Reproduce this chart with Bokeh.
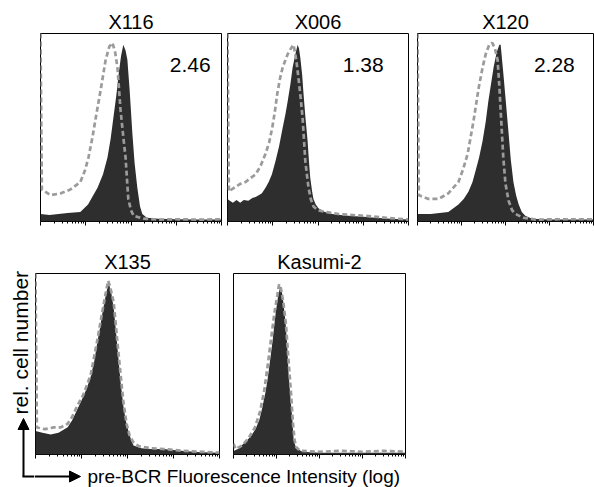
import math
from bokeh.plotting import figure
from bokeh.layouts import row, column
from bokeh.models import Range1d, Label, Arrow, NormalHead, FixedTicker
from bokeh.embed import file_html
from bokeh.resources import INLINE

FONT = "Liberation Sans"
FILL = "#2e2e2e"
DASH = "#9b9b9b"

# ---- data: x in log10 decades of fluorescence, y = relative cell number ----
titles = ["X116", "X006", "X120", "X135", "Kasumi-2"]
ratios = ["2.46", "1.38", "2.28", None, None]

x116_x = [0.0, 0.2, 0.4, 0.6, 0.88, 1.05, 1.26, 1.38, 1.48, 1.55, 1.61, 1.68, 1.73, 1.78, 1.83, 1.88, 1.92, 1.97, 2.03, 2.08, 2.14, 2.2, 2.25, 2.35, 2.6, 3.0, 3.5, 4.0]
x116_y = [0.04, 0.035, 0.04, 0.045, 0.05, 0.09, 0.18, 0.25, 0.34, 0.44, 0.55, 0.68, 0.79, 0.88, 0.94, 0.91, 0.86, 0.70, 0.47, 0.31, 0.18, 0.08, 0.04, 0.02, 0.015, 0.012, 0.01, 0.01]
x116_ctl_x = [0.0, 0.03, 0.22, 0.45, 0.66, 0.88, 0.98, 1.06, 1.15, 1.22, 1.33, 1.44, 1.52, 1.59, 1.65, 1.70, 1.77, 1.83, 1.88, 1.94, 2.0, 2.06, 2.28, 2.6, 3.0, 3.5, 4.0]
x116_ctl_y = [1.0, 0.17, 0.14, 0.15, 0.17, 0.21, 0.27, 0.34, 0.45, 0.55, 0.70, 0.86, 0.93, 0.95, 0.90, 0.82, 0.59, 0.45, 0.34, 0.12, 0.06, 0.03, 0.015, 0.01, 0.012, 0.01, 0.012]

x006_x = [0.0, 0.05, 0.12, 0.2, 0.28, 0.36, 0.46, 0.55, 0.62, 0.69, 0.76, 0.84, 0.91, 0.98, 1.06, 1.14, 1.22, 1.28, 1.33, 1.39, 1.44, 1.5, 1.55, 1.58, 1.61, 1.65, 1.68, 1.72, 1.77, 1.80, 1.83, 1.87, 1.90, 1.95, 2.01, 2.15, 2.32, 2.5, 2.67, 3.0, 3.27, 3.6, 4.0]
x006_y = [0.12, 0.11, 0.10, 0.115, 0.10, 0.115, 0.11, 0.125, 0.13, 0.14, 0.15, 0.18, 0.21, 0.25, 0.32, 0.40, 0.50, 0.57, 0.64, 0.73, 0.82, 0.89, 0.94, 0.92, 0.87, 0.78, 0.68, 0.56, 0.43, 0.32, 0.23, 0.16, 0.12, 0.09, 0.07, 0.05, 0.04, 0.035, 0.03, 0.025, 0.02, 0.015, 0.01]
x006_ctl_x = [0.0, 0.03, 0.15, 0.28, 0.40, 0.5, 0.62, 0.72, 0.84, 0.92, 0.99, 1.05, 1.10, 1.16, 1.22, 1.33, 1.40, 1.46, 1.52, 1.57, 1.62, 1.66, 1.72, 1.79, 1.84, 1.90, 2.0, 2.17, 2.45, 2.7, 3.05, 3.5, 4.0]
x006_ctl_y = [1.0, 0.16, 0.18, 0.20, 0.21, 0.23, 0.25, 0.29, 0.36, 0.42, 0.50, 0.59, 0.68, 0.76, 0.82, 0.89, 0.92, 0.94, 0.86, 0.76, 0.65, 0.55, 0.32, 0.18, 0.12, 0.08, 0.06, 0.05, 0.04, 0.035, 0.03, 0.02, 0.01]

x120_x = [0.0, 0.3, 0.5, 0.7, 0.93, 1.05, 1.16, 1.25, 1.32, 1.40, 1.48, 1.55, 1.61, 1.67, 1.73, 1.80, 1.86, 1.89, 1.95, 2.01, 2.07, 2.12, 2.18, 2.24, 2.30, 2.37, 2.45, 2.6, 3.0, 4.0]
x120_y = [0.04, 0.04, 0.045, 0.05, 0.09, 0.12, 0.16, 0.21, 0.27, 0.34, 0.43, 0.53, 0.64, 0.73, 0.82, 0.90, 0.94, 0.94, 0.79, 0.63, 0.47, 0.33, 0.21, 0.14, 0.09, 0.05, 0.03, 0.015, 0.01, 0.01]
x120_ctl_x = [0.0, 0.03, 0.25, 0.48, 0.70, 0.93, 1.04, 1.14, 1.27, 1.39, 1.48, 1.55, 1.63, 1.70, 1.76, 1.82, 1.86, 1.89, 1.95, 2.0, 2.07, 2.15, 2.23, 2.4, 2.7, 3.2, 4.0]
x120_ctl_y = [1.0, 0.14, 0.12, 0.12, 0.15, 0.21, 0.28, 0.36, 0.53, 0.71, 0.82, 0.89, 0.94, 0.95, 0.92, 0.86, 0.72, 0.59, 0.34, 0.20, 0.11, 0.06, 0.04, 0.02, 0.01, 0.012, 0.012]

x135_x = [0.0, 0.15, 0.33, 0.5, 0.70, 0.8, 0.91, 1.04, 1.12, 1.2, 1.28, 1.35, 1.41, 1.46, 1.52, 1.57, 1.6, 1.65, 1.70, 1.75, 1.80, 1.85, 1.91, 1.96, 2.02, 2.08, 2.13, 2.3, 2.5, 2.78, 3.0, 3.22, 3.6, 4.0]
x135_y = [0.13, 0.12, 0.11, 0.12, 0.15, 0.19, 0.25, 0.32, 0.37, 0.43, 0.52, 0.63, 0.71, 0.79, 0.87, 0.93, 0.94, 0.89, 0.81, 0.68, 0.54, 0.40, 0.27, 0.19, 0.13, 0.08, 0.05, 0.035, 0.03, 0.03, 0.025, 0.02, 0.012, 0.01]
x135_ctl_x = [0.0, 0.03, 0.2, 0.4, 0.55, 0.7, 0.8, 0.91, 1.04, 1.2, 1.35, 1.46, 1.54, 1.58, 1.62, 1.70, 1.80, 1.91, 1.98, 2.04, 2.12, 2.25, 2.5, 2.8, 3.2, 3.6, 4.0]
x135_ctl_y = [1.0, 0.15, 0.14, 0.15, 0.15, 0.17, 0.21, 0.27, 0.33, 0.44, 0.64, 0.80, 0.91, 0.96, 0.93, 0.84, 0.57, 0.29, 0.17, 0.11, 0.07, 0.045, 0.035, 0.03, 0.02, 0.015, 0.01]

kas_x = [0.0, 0.1, 0.28, 0.4, 0.51, 0.6, 0.67, 0.74, 0.79, 0.84, 0.91, 0.98, 1.04, 1.09, 1.14, 1.21, 1.25, 1.28, 1.33, 1.37, 1.40, 1.45, 1.49, 1.6, 2.0, 4.0]
kas_y = [0.02, 0.03, 0.07, 0.10, 0.14, 0.19, 0.26, 0.34, 0.41, 0.50, 0.63, 0.78, 0.88, 0.93, 0.88, 0.73, 0.60, 0.45, 0.30, 0.19, 0.08, 0.04, 0.03, 0.015, 0.01, 0.01]
kas_ctl_x = [0.0, 0.05, 0.2, 0.35, 0.5, 0.62, 0.72, 0.80, 0.88, 0.95, 1.02, 1.06, 1.10, 1.16, 1.22, 1.28, 1.34, 1.38, 1.42, 1.46, 1.55, 2.0, 2.5, 3.0, 3.5, 4.0]
kas_ctl_y = [0.06, 0.03, 0.05, 0.09, 0.15, 0.24, 0.36, 0.50, 0.65, 0.78, 0.88, 0.94, 0.92, 0.84, 0.72, 0.52, 0.33, 0.18, 0.08, 0.04, 0.02, 0.015, 0.02, 0.015, 0.02, 0.015]

x_label = "pre-BCR Fluorescence Intensity (log)"
y_label = "rel. cell number"

MAJOR = [0, 1, 2, 3, 4]
MINOR = [d + math.log10(k) for d in range(4) for k in range(2, 10)]


def panel(title, fx, fy, cx, cy, width, height, mbl, mbr, mbt, mbb, stat=None, stat_x=3.2):
    p = figure(width=width, height=height, x_range=Range1d(0, 4), y_range=Range1d(0, 1),
               output_backend="svg", toolbar_location=None, y_axis_location=None,
               min_border_left=mbl, min_border_right=mbr, min_border_top=mbt,
               min_border_bottom=mbb, background_fill_color="white", border_fill_color="white",
               title=title)
    p.title.align = "center"
    p.title.text_font = FONT
    p.title.text_font_size = "20px"
    p.title.text_font_style = "normal"
    p.title.text_color = "black"
    p.title.standoff = 2
    p.grid.visible = False
    p.outline_line_color = "black"
    p.outline_line_width = 1
    p.outline_line_alpha = 1.0
    ax = p.xaxis[0]
    ax.ticker = FixedTicker(ticks=MAJOR, minor_ticks=MINOR)
    ax.major_tick_out = 4
    ax.major_tick_in = 0
    ax.minor_tick_out = 2
    ax.minor_tick_in = 0
    ax.major_tick_line_color = "black"
    ax.minor_tick_line_color = "black"
    ax.major_label_overrides = {t: "" for t in MAJOR}
    ax.major_label_text_font_size = "1px"
    ax.major_label_standoff = 0
    ax.axis_line_color = None
    p.varea(x=fx, y1=0, y2=fy, fill_color=FILL, fill_alpha=1.0)
    p.line(cx, cy, line_color=DASH, line_width=2.7, line_dash="5 3")
    fh = height - mbt - mbb
    if stat:
        p.add_layout(Label(x=stat_x, y=1 - 31.5 / fh, text=stat, text_align="center",
                           text_baseline="middle", text_font=FONT,
                           text_font_size="21px", text_color="black"))
    return p


f1 = panel(titles[0], x116_x, x116_y, x116_ctl_x, x116_ctl_y, 224, 233, 40, 3, 33, 12, ratios[0], 3.31)
f2 = panel(titles[1], x006_x, x006_y, x006_ctl_x, x006_ctl_y, 188, 233, 3, 4, 33, 12, ratios[1], 3.0)
f3 = panel(titles[2], x120_x, x120_y, x120_ctl_x, x120_ctl_y, 182, 233, 5, 1, 33, 12, ratios[2], 3.11)

f4 = panel(titles[3], x135_x, x135_y, x135_ctl_x, x135_ctl_y, 192, 230, 1, 7, 39, 7)
f5 = panel(titles[4], kas_x, kas_y, kas_ctl_x, kas_ctl_y, 187, 230, 7, 8, 40, 9)


def blank(w, h):
    p = figure(width=w, height=h, x_range=Range1d(0, w), y_range=Range1d(0, h),
               output_backend="svg", toolbar_location=None, x_axis_location=None,
               y_axis_location=None, min_border=0, min_border_left=0, min_border_right=0,
               min_border_top=0, min_border_bottom=0)
    p.grid.visible = False
    p.outline_line_color = None
    return p


# left strip: vertical arrow + rotated label
fl = blank(34, 254)
fl.add_layout(Arrow(x_start=23, y_start=11, x_end=23, y_end=69, line_color="black", line_width=2,
                    end=NormalHead(size=11, fill_color="black", line_color="black")))
fl.segment(x0=[22], y0=[11], x1=[34], y1=[11], line_color="black", line_width=2)
fl.add_layout(Label(x=19.5, y=73, text=y_label, angle=math.pi / 2, text_align="left",
                    text_baseline="middle", text_font=FONT, text_font_size="21px",
                    text_color="black"))

# bottom strip: horizontal arrow + x label
fb = blank(379, 24)
fb.add_layout(Arrow(x_start=0, y_start=11, x_end=46, y_end=11, line_color="black", line_width=2,
                    end=NormalHead(size=11, fill_color="black", line_color="black")))
fb.add_layout(Label(x=53, y=11, text=x_label, text_align="left", text_baseline="middle",
                    text_font=FONT, text_font_size="19px", text_color="black"))

layout = column(row(f1, f2, f3), row(fl, column(row(f4, f5), fb)))

open("out.html", "w").write(file_html(layout, INLINE))
